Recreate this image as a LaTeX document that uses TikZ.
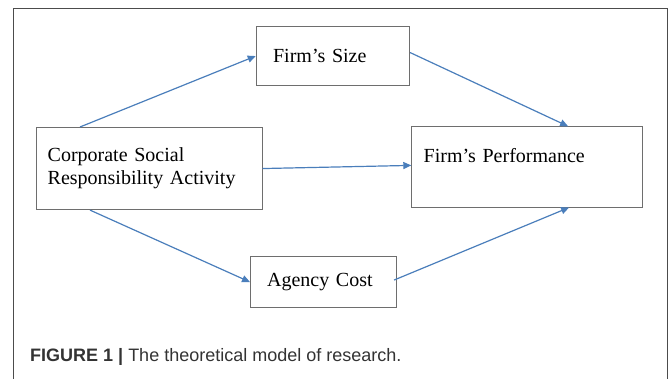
\documentclass[tikz,border=0pt]{standalone}
\usepackage{fontspec}
\setmainfont{Liberation Serif}
\newfontfamily\capfont{Liberation Sans}
\usetikzlibrary{arrows.meta}
\definecolor{linkblue}{HTML}{4A7EBB}
\definecolor{boxgray}{HTML}{6E6E6E}
\begin{document}
\begin{tikzpicture}[x=1pt,y=-1pt,
    box/.style={draw=boxgray,line width=.8pt,anchor=north west,align=left,font=\fontsize{20}{22.7}\selectfont},
    link/.style={linkblue,line width=1.2pt,-{Triangle[length=8pt,width=7pt]}}]
        \useasboundingbox (0,0) rectangle (672,379);
        \draw[black!70,line width=.9pt] (13.5,379)--(13.5,8.5)--(667,8.5)--(667,379);
        \node[box,inner xsep=17pt,text width=119.6pt,minimum height=59.3pt] (size) at (255.7,26) {Firm’s Size};
        \node[box,inner xsep=11.3pt,text width=203.1pt,minimum height=82.3pt] (csr) at (36,127) {Corporate Social\\Responsibility Activity};
        \node[box,inner xsep=12pt,text width=207pt,minimum height=80.4pt] (perf) at (411.3,126.3) {Firm’s Performance\\\mbox{}};
        \node[box,inner xsep=16.7pt,text width=112.9pt,minimum height=51.3pt] (agency) at (250,256) {Agency Cost};
        \draw[link] ([xshift=44pt]csr.north west)--(size.west);
        \draw[link] ([yshift=3.5pt]size.east)--([xshift=-75pt]perf.north east);
        \draw[link] (csr.east)--([yshift=1.5pt]perf.west);
        \draw[link] ([xshift=54pt]csr.south west)--(agency.west);
        \draw[link] ([xshift=-3pt,yshift=2pt]agency.east)--([xshift=-74pt]perf.south east);
        \node[anchor=base west,inner sep=0pt,text=black!80,font=\capfont\fontsize{18}{20}\selectfont] (caption) at (30,361.7) {\textbf{FIGURE 1 |} The theoretical model of research.};
    \end{tikzpicture}
\end{document}
